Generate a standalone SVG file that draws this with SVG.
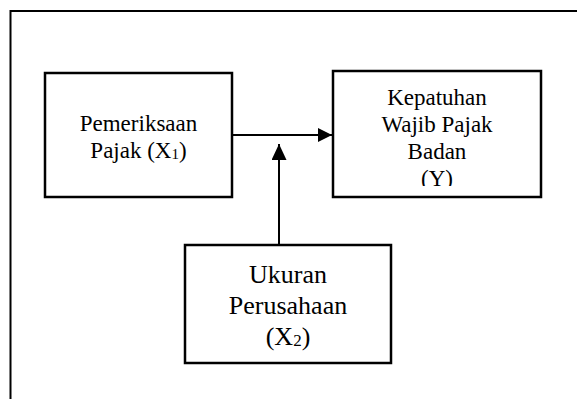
<svg xmlns="http://www.w3.org/2000/svg" width="577" height="399" viewBox="0 0 577 399">
<style>
.box{fill:#fff;stroke:#000;stroke-width:2.5}
.line{fill:none;stroke:#000;stroke-width:2}
.t{font-family:"Liberation Serif","Times New Roman",serif;fill:#000;text-anchor:middle}
.s{font-size:15px}
</style>
<defs>
<marker id="ah" markerWidth="16" markerHeight="16" refX="14" refY="7" orient="auto" markerUnits="userSpaceOnUse">
<path d="M0,0 L14,7 L0,14 Z" fill="#000"/>
</marker>
<marker id="av" markerWidth="18" markerHeight="18" refX="16" refY="7.5" orient="auto" markerUnits="userSpaceOnUse">
<path d="M0,0 L16,7.5 L0,15 Z" fill="#000"/>
</marker>
<clipPath id="clipY"><rect x="334" y="72" width="206" height="114"/></clipPath>
</defs>
<path class="line" d="M577,11 H10.5 V399"/>
<g id="connectors">
<line class="line" x1="232" y1="135" x2="332" y2="135" marker-end="url(#ah)"/>
<line class="line" x1="279" y1="245" x2="279" y2="144" marker-end="url(#av)"/>
</g>
<g id="node-x1">
<rect class="box" x="45" y="73" width="187" height="124"/>
<text class="t" font-size="23" x="138.5" y="131">Pemeriksaan</text>
<text class="t" font-size="23" x="138.5" y="158">Pajak (X<tspan class="s" dy="1">1</tspan><tspan dy="-1">)</tspan></text>
</g>
<g id="node-y">
<rect class="box" x="333" y="71" width="208" height="126"/>
<g clip-path="url(#clipY)">
<text class="t" font-size="23" x="437" y="105">Kepatuhan</text>
<text class="t" font-size="23" x="437" y="132">Wajib Pajak</text>
<text class="t" font-size="23" x="437" y="159">Badan</text>
<text class="t" font-size="23" x="437" y="186">(Y)</text>
</g>
</g>
<g id="node-x2">
<rect class="box" x="185" y="245" width="206" height="118"/>
<text class="t" font-size="26" x="288" y="283">Ukuran</text>
<text class="t" font-size="26" x="288" y="314">Perusahaan</text>
<text class="t" font-size="26" x="288" y="345">(X<tspan font-size="17" dy="1">2</tspan><tspan dy="-1">)</tspan></text>
</g>
</svg>
